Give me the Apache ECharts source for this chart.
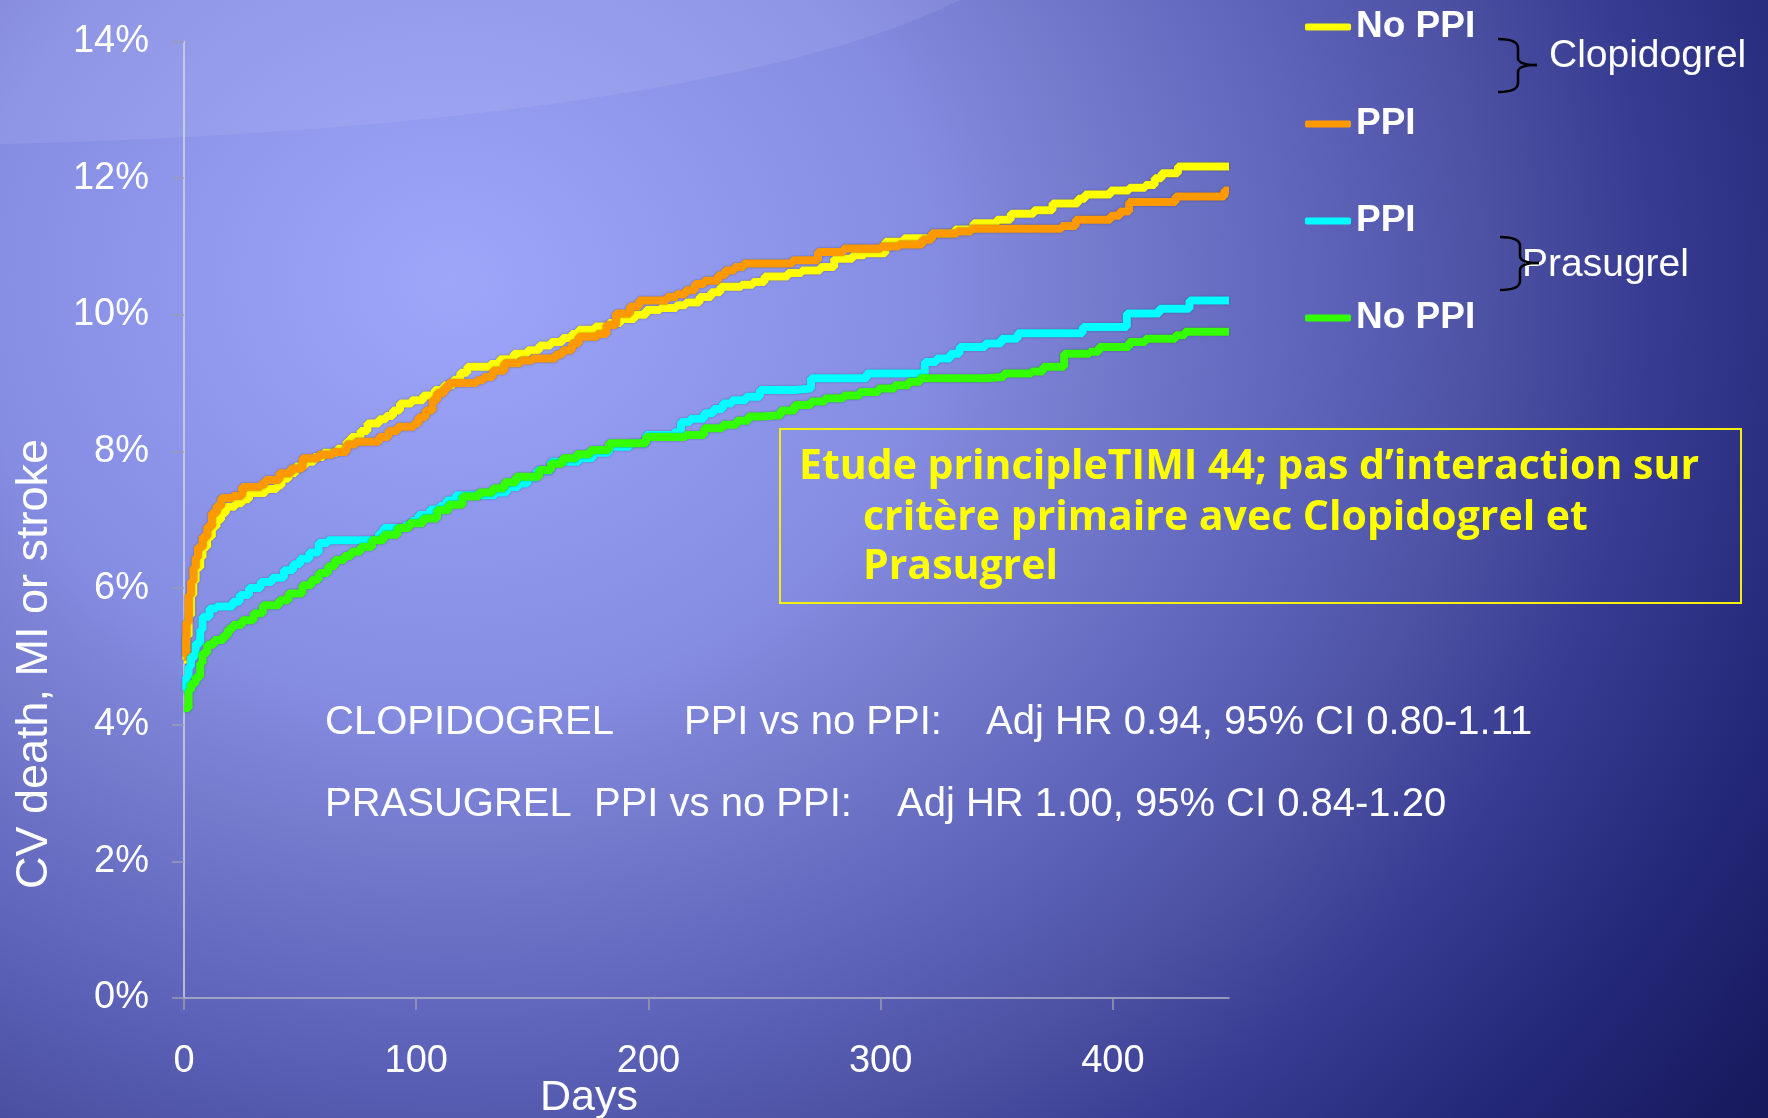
<!DOCTYPE html>
<html>
<head>
<meta charset="utf-8">
<title>CV death, MI or stroke — Clopidogrel / Prasugrel, PPI vs no PPI</title>
<script src="https://cdn.jsdelivr.net/npm/echarts@6/dist/echarts.min.js"></script>
<style>
  html, body { margin: 0; padding: 0; width: 1768px; height: 1118px; overflow: hidden; }
  #chart {
    width: 1768px; height: 1118px;
    background: radial-gradient(ellipse 1600px 1400px at 451px 282px,
      #9da6f9 0%, #858de2 30%, #757bcd 40%, #5c62b8 55%, #4c51a3 65%,
      #373c92 75%, #232777 88%, #181a5e 100%);
  }
</style>
</head>
<body>
<div id="chart"></div>
<script>
// Kaplan-Meier style cumulative event curves: [day, % with event]
const clopidogrelNoPpi = [
  [0,4.95],[1,5.3],[2,5.6],[3,5.9],[4,6.1],[5,6.3],[7,6.45],[8,6.6],[10,6.75],[12,6.9],
  [14,7.0],[16,7.1],[18,7.19],[22,7.24],[25,7.3],[28,7.39],[35,7.45],[40,7.5],[42,7.6],
  [45,7.68],[48,7.78],[52,7.85],[56,7.92],[60,7.98],[66,8.04],[70,8.14],[72,8.21],[76,8.3],
  [79,8.41],[84,8.47],[87,8.52],[90,8.6],[93,8.7],[98,8.75],[103,8.82],[108,8.9],[112,8.97],
  [116,9.05],[119,9.15],[122,9.24],[132,9.28],[136,9.35],[142,9.43],[148,9.48],[153,9.55],
  [158,9.6],[163,9.66],[167,9.72],[170,9.78],[177,9.83],[183,9.88],[188,9.94],[194,10.0],
  [199,10.07],[205,10.1],[212,10.14],[216,10.18],[222,10.26],[227,10.33],[231,10.41],
  [240,10.44],[245,10.48],[250,10.56],[260,10.61],[266,10.65],[274,10.7],[280,10.82],
  [288,10.87],[293,10.9],[302,11.07],[310,11.12],[322,11.19],[332,11.25],[340,11.34],
  [350,11.39],[356,11.48],[366,11.53],[374,11.63],[385,11.7],[388,11.76],[399,11.82],
  [407,11.86],[414,11.9],[418,12.0],[421,12.07],[428,12.17],[450,12.17]
];
const clopidogrelPpi = [
  [0,5.0],[1,5.5],[2,5.9],[3,6.1],[4,6.3],[5,6.45],[6,6.6],[8,6.75],[10,6.9],[12,7.1],
  [14,7.2],[16,7.32],[21,7.35],[25,7.48],[33,7.52],[35,7.58],[41,7.68],[46,7.75],[51,7.9],
  [58,7.95],[64,7.99],[70,8.1],[74,8.14],[84,8.21],[88,8.3],[92,8.36],[99,8.41],[101,8.5],
  [104,8.6],[107,8.75],[109,8.85],[112,8.93],[114,9.0],[126,9.04],[129,9.09],[133,9.18],
  [138,9.29],[145,9.33],[150,9.36],[160,9.42],[163,9.48],[167,9.58],[170,9.68],[178,9.72],
  [182,9.85],[186,10.02],[192,10.12],[196,10.21],[208,10.26],[212,10.3],[216,10.36],
  [220,10.45],[224,10.5],[230,10.58],[233,10.65],[237,10.7],[241,10.75],[262,10.8],
  [273,10.92],[284,10.97],[300,11.0],[308,11.03],[318,11.1],[322,11.19],[333,11.22],
  [339,11.26],[378,11.3],[384,11.39],[399,11.45],[403,11.51],[407,11.65],[427,11.73],
  [448,11.82],[450,11.82]
];
const prasugrelPpi = [
  [0,4.5],[1,4.7],[2,4.85],[3,5.0],[5,5.19],[7,5.39],[8,5.58],[11,5.7],[14,5.73],[21,5.8],
  [24,5.9],[28,6.0],[33,6.09],[38,6.15],[43,6.26],[47,6.35],[50,6.43],[54,6.52],[58,6.66],
  [62,6.7],[81,6.72],[84,6.8],[86,6.88],[95,6.92],[98,6.98],[101,7.07],[106,7.15],[110,7.2],
  [113,7.28],[117,7.36],[134,7.4],[139,7.48],[144,7.53],[148,7.62],[152,7.72],[158,7.85],
  [170,7.9],[176,7.98],[183,8.07],[192,8.12],[199,8.24],[211,8.28],[214,8.43],[218,8.48],
  [224,8.56],[228,8.62],[232,8.7],[236,8.75],[242,8.8],[248,8.9],[263,8.92],[270,9.07],
  [294,9.14],[319,9.31],[324,9.36],[330,9.43],[334,9.53],[345,9.58],[352,9.65],[359,9.73],
  [387,9.82],[406,10.02],[420,10.09],[433,10.21],[450,10.21]
];
const prasugrelNoPpi = [
  [0,4.24],[2,4.5],[3,4.6],[5,4.7],[7,4.9],[8,5.05],[10,5.17],[13,5.24],[17,5.31],[19,5.4],
  [21,5.46],[25,5.53],[30,5.63],[34,5.75],[41,5.82],[45,5.92],[51,6.04],[55,6.12],[58,6.22],
  [62,6.32],[65,6.41],[69,6.47],[72,6.53],[76,6.6],[81,6.7],[86,6.78],[92,6.88],[97,6.95],
  [103,7.02],[109,7.14],[114,7.22],[120,7.34],[127,7.4],[133,7.46],[138,7.55],[143,7.63],
  [153,7.73],[158,7.82],[163,7.9],[169,7.96],[175,8.02],[183,8.12],[199,8.21],[216,8.24],
  [224,8.34],[232,8.39],[238,8.45],[243,8.51],[248,8.53],[257,8.6],[263,8.68],[270,8.73],
  [276,8.78],[284,8.82],[291,8.87],[299,8.92],[306,8.97],[312,9.02],[317,9.07],[345,9.09],
  [353,9.14],[365,9.17],[370,9.24],[379,9.43],[390,9.46],[394,9.53],[407,9.6],[414,9.65],
  [427,9.7],[431,9.75],[450,9.75]
];

// Axis ticks
const dayTicks = [0, 100, 200, 300, 400];
const dayMax = 450;
const pctMin = 0, pctMax = 14, pctStep = 2;

// Legend entries (series id -> shown label)
const seriesNames = ['Clopidogrel No PPI', 'Clopidogrel PPI', 'Prasugrel PPI', 'Prasugrel No PPI'];
const legendLabels = ['No PPI', 'PPI', 'PPI', 'No PPI'];
const seriesColors = ['#ffff00', '#ff9900', '#00ffff', '#33ff00'];
const seriesData = [clopidogrelNoPpi, clopidogrelPpi, prasugrelPpi, prasugrelNoPpi];

// Annotation text
const studyNote = ['Etude principleTIMI 44; pas d\u2019interaction sur', 'critère primaire avec Clopidogrel et', 'Prasugrel'];
const hrRows = [
  ['CLOPIDOGREL', 'PPI vs no PPI:', 'Adj HR 0.94, 95% CI 0.80-1.11'],
  ['PRASUGREL', 'PPI vs no PPI:', 'Adj HR 1.00, 95% CI 0.84-1.20']
];

const SANS = '"Liberation Sans", Arial, sans-serif';
const NOTE_FONT = 'bold 41px "Open Sans", Lato, sans-serif';
const chart = echarts.init(document.getElementById('chart'), null, { renderer: 'canvas' });

const labelMap = {};
seriesNames.forEach((n, i) => { labelMap[n] = legendLabels[i]; });

function txt(x, y, text, size, extra) {
  return {
    type: 'text', x: x, y: y, z: 20, silent: true,
    style: Object.assign({ text: text, fill: '#ffffff', font: size + 'px ' + SANS,
      textAlign: 'left', textVerticalAlign: 'middle' }, extra || {})
  };
}

// pale arc across the top of the slide (cubic outline sampled into a polygon)
function arcPolygon() {
  const p0 = [0, 144], p1 = [400, 135], p2 = [780, 90], p3 = [960, 0];
  const pts = [[0, 0]];
  for (let i = 0; i <= 48; i++) {
    const t = i / 48, u = 1 - t;
    pts.push([
      u*u*u*p0[0] + 3*u*u*t*p1[0] + 3*u*t*t*p2[0] + t*t*t*p3[0],
      u*u*u*p0[1] + 3*u*u*t*p1[1] + 3*u*t*t*p2[1] + t*t*t*p3[1]
    ]);
  }
  return { type: 'polygon', z: -5, silent: true, shape: { points: pts },
    style: { fill: 'rgba(255,255,255,0.08)' } };
}

// curly brace "}" built from curves and lines
function brace(x0, xs, xt, yTop, yMid, yBot) {
  const st = { stroke: '#000000', lineWidth: 2.5, fill: 'none' };
  const r = 9;
  const seg = (s) => Object.assign({ z: 20, silent: true, style: st }, s);
  return [
    seg({ type: 'bezierCurve', shape: { x1: x0, y1: yTop, cpx1: xs, cpy1: yTop, x2: xs, y2: yTop + r } }),
    seg({ type: 'line', shape: { x1: xs, y1: yTop + r, x2: xs, y2: yMid - 7 } }),
    seg({ type: 'bezierCurve', shape: { x1: xs, y1: yMid - 7, cpx1: xs, cpy1: yMid, x2: xt, y2: yMid } }),
    seg({ type: 'bezierCurve', shape: { x1: xt, y1: yMid, cpx1: xs, cpy1: yMid, x2: xs, y2: yMid + 7 } }),
    seg({ type: 'line', shape: { x1: xs, y1: yMid + 7, x2: xs, y2: yBot - r } }),
    seg({ type: 'bezierCurve', shape: { x1: xs, y1: yBot - r, cpx1: xs, cpy1: yBot, x2: x0, y2: yBot } })
  ];
}

const graphics = [arcPolygon()]
  .concat([
    txt(35, 664, 'CV death, MI or stroke', 45, { textAlign: 'center' }),
    txt(589, 1098, 'Days', 43, { textAlign: 'center' }),
    txt(325, 723, hrRows[0][0], 40), txt(684, 723, hrRows[0][1], 40), txt(986, 723, hrRows[0][2], 40),
    txt(325, 805, hrRows[1][0], 40), txt(594, 805, hrRows[1][1], 40), txt(897, 805, hrRows[1][2], 40),
    txt(1549, 56, 'Clopidogrel', 39),
    txt(1522, 265, 'Prasugrel', 39),
    { type: 'rect', z: 20, silent: true,
      shape: { x: 780, y: 429, width: 961, height: 174 },
      style: { fill: 'none', stroke: '#f4f00e', lineWidth: 2 } },
    txt(799, 467, studyNote[0], 41, { fill: '#ffff00', font: NOTE_FONT }),
    txt(863, 518, studyNote[1], 41, { fill: '#ffff00', font: NOTE_FONT }),
    txt(863, 567, studyNote[2], 41, { fill: '#ffff00', font: NOTE_FONT })
  ])
  .concat(brace(1498, 1518, 1537, 39, 65, 92))
  .concat(brace(1500, 1520, 1539, 237, 263, 290));
// rotate the y-axis title to read bottom-to-top
graphics[1].rotation = Math.PI / 2;

chart.setOption({
  backgroundColor: 'transparent',
  animation: false,
  grid: { left: 184, right: 539, top: 41.5, bottom: 120, containLabel: false },
  xAxis: {
    type: 'value', min: 0, max: dayMax, interval: 100,
    axisLine: { lineStyle: { color: '#b4b6c8', width: 1.5 } },
    axisTick: { show: true, length: 12, lineStyle: { color: '#9a9cb0', width: 1.5 }, customValues: dayTicks },
    axisLabel: { customValues: dayTicks, margin: 45, color: '#ffffff', fontSize: 38, fontFamily: SANS },
    splitLine: { show: false }
  },
  yAxis: {
    type: 'value', min: pctMin, max: pctMax, interval: pctStep,
    axisLine: { show: true, lineStyle: { color: '#d4d6e6', width: 1.5 } },
    axisTick: { show: true, length: 12, lineStyle: { color: '#9a9cb0', width: 1.5 } },
    axisLabel: { formatter: '{value}%', margin: 35, color: '#ffffff', fontSize: 38, fontFamily: SANS },
    splitLine: { show: false }
  },
  legend: {
    orient: 'vertical', left: 1300, top: 2, itemWidth: 46, itemHeight: 7, itemGap: 57,
    icon: 'roundRect', selectedMode: false,
    data: seriesNames,
    formatter: function (name) { return labelMap[name]; },
    textStyle: { color: '#ffffff', fontSize: 37, fontWeight: 'bold', fontFamily: SANS, lineHeight: 40 }
  },
  series: seriesNames.map(function (name, i) {
    return {
      name: name, type: 'line', step: 'end', showSymbol: false, symbol: 'none',
      data: seriesData[i], color: seriesColors[i], z: 3 + i,
      lineStyle: { width: 8, color: seriesColors[i], shadowColor: 'rgba(30,30,70,0.45)', shadowBlur: 2 },
      emphasis: { disabled: true }
    };
  }),
  graphic: graphics
});
</script>
</body>
</html>
